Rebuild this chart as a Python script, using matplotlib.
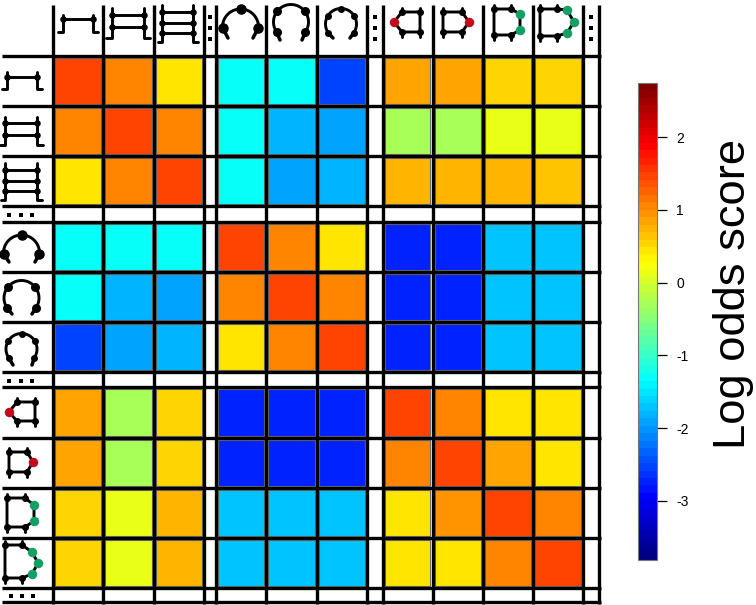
import numpy as np
import matplotlib
matplotlib.use("Agg")
import matplotlib.pyplot as plt
from matplotlib.colors import LinearSegmentedColormap, Normalize
from matplotlib.cm import ScalarMappable
from matplotlib.patches import Rectangle

plt.rcParams['font.family'] = ['Liberation Sans', 'DejaVu Sans']
plt.rcParams['axes.unicode_minus'] = False

# ---------- data ----------
row1 = [1.50, 1.05, 0.40, -1.30, -1.30, -2.50, 0.80, 0.80, 0.50, 0.50]
row2 = [1.05, 1.50, 1.05, -1.30, -1.77, -1.95, -0.32, -0.32, 0.15, 0.15]
row3 = [0.40, 1.05, 1.50, -1.30, -1.95, -1.77, 0.70, 0.70, 0.70, 0.62]
row4 = [-1.30, -1.30, -1.30, 1.50, 1.05, 0.40, -2.72, -2.72, -1.75, -1.75]
row5 = [-1.30, -1.77, -1.95, 1.05, 1.50, 1.05, -2.72, -2.72, -1.72, -1.72]
row6 = [-2.50, -1.95, -1.77, 0.40, 1.05, 1.50, -2.72, -2.72, -1.72, -1.72]
row7 = [0.80, -0.32, 0.50, -2.72, -2.72, -2.72, 1.50, 1.05, 0.40, 0.40]
row8 = [0.80, -0.32, 0.50, -2.72, -2.72, -2.72, 1.05, 1.50, 0.80, 0.40]
row9 = [0.50, 0.15, 0.70, -1.75, -1.75, -1.75, 0.40, 1.00, 1.50, 1.05]
row10 = [0.50, 0.15, 0.70, -1.72, -1.72, -1.72, 0.40, 0.40, 1.05, 1.50]
scores = [row1, row2, row3, row4, row5, row6, row7, row8, row9, row10]
score_min, score_max = -3.815, 2.746
colorbar_ticks = [-3, -2, -1, 0, 1, 2]
colorbar_label = "Log odds score"

# ---------- layout (pixels) ----------
W, H = 756, 605
v_lines = [52.5, 103, 154, 204, 216, 266, 317, 367, 382.5, 432.5, 483, 533, 583, 599]
h_lines = [56, 106, 156, 206, 222, 272, 322, 372, 387, 438, 488, 538, 588, 602]
col_ids = [0, 1, 2, 4, 5, 6, 8, 9, 10, 11]
row_ids = [0, 1, 2, 4, 5, 6, 8, 9, 10, 11]

cmap = LinearSegmentedColormap.from_list(
    "matlab_jet",
    [(0, (0, 0, .5)), (.125, (0, 0, 1)), (.375, (0, 1, 1)),
     (.625, (1, 1, 0)), (.875, (1, 0, 0)), (1, (.5, 0, 0))], N=64)
norm = Normalize(score_min, score_max)

fig = plt.figure(figsize=(W / 100, H / 100), dpi=100)
ax = fig.add_axes([0, 0, 1, 1])
ax.set_xlim(0, W)
ax.set_ylim(H, 0)
ax.axis("off")

# ---------- heat cells ----------
for i, row in enumerate(scores):
    y0, y1 = h_lines[row_ids[i]], h_lines[row_ids[i] + 1]
    for j, val in enumerate(row):
        x0, x1 = v_lines[col_ids[j]], v_lines[col_ids[j] + 1]
        ax.add_patch(Rectangle((x0 + 2.3, y0 + 2.0), x1 - x0 - 4.6, y1 - y0 - 4.0,
                               facecolor=cmap(norm(val)), edgecolor="#6e6e6e",
                               linewidth=0.8, zorder=1))

# ---------- grid ----------
for x in v_lines:
    ax.plot([x, x], [5, 604], color="black", lw=2.4, solid_capstyle="butt", zorder=2)
for y in h_lines:
    ax.plot([2, 600.5], [y, y], color="black", lw=2.4, solid_capstyle="butt", zorder=2)

# ---------- icons ----------
LW = 2.1
RED, GREEN = "#c00d1e", "#12a064"


def seg(xs, ys, lw=LW):
    ax.plot(xs, ys, color="black", lw=lw, solid_capstyle="round",
            solid_joinstyle="round", zorder=3)


def dot(x, y, d, color="black"):
    ax.plot([x], [y], "o", ms=d * 0.72, mfc=color, mec=color, mew=0, zorder=4)


def ladder(xl, xr, rungs, top, foot, foot_l, foot_r):
    seg([foot_l, xl, xl], [foot, foot, top])
    seg([foot_r, xr, xr], [foot, foot, top])
    for y in rungs:
        seg([xl, xr], [y, y])
        dot(xl, y, 6.5)
        dot(xr, y, 6.5)


ladder(63, 93, [19], 15, 32, 58, 98)
ladder(112, 144, [15, 27], 8, 38, 106, 150)
ladder(162, 193, [12, 23, 33], 5, 42, 158, 198)
ladder(7, 37, [77], 72, 89, 2, 42)
ladder(4.5, 37, [123, 135], 117, 145, 0, 43)
ladder(4.5, 37, [170, 181, 191], 163, 200, 1, 42)


def arch(cx, cy, r, angles, ends, end_y, d):
    a_max = max(abs(a) for a in angles)
    t = np.radians(np.linspace(-a_max, a_max, 60))
    seg(cx + r * np.sin(t), cy - r * np.cos(t), lw=LW)
    for sgn, ex in zip((-1, 1), ends):
        s = np.radians(a_max)
        seg([cx + sgn * r * np.sin(s), ex], [cy - r * np.cos(s), end_y], lw=LW * 1.2)
    for a in angles:
        s = np.radians(a)
        dot(cx + r * np.sin(s), cy - r * np.cos(s), d)


arch(240.5, 27, 18, [-92, 0, 92], (228, 253), 38, 10.5)
arch(291, 22, 17.5, [-125, -52, 52, 125], (280, 302), 40, 9)
arch(341, 24, 15.5, [-125, -60, 0, 60, 125], (333, 350), 38, 7)
arch(21.5, 253, 18, [-92, 0, 92], (9, 35), 262, 10.5)
arch(21.5, 298, 17.5, [-125, -52, 52, 125], (12, 32), 314, 9)
arch(21.5, 349, 15.5, [-125, -60, 0, 60, 125], (13, 32), 365, 7)


def ring(pts, colors):
    xs = [p[0] for p in pts] + [pts[0][0]]
    ys = [p[1] for p in pts] + [pts[0][1]]
    seg(xs, ys)
    cy = sum(ys[:-1]) / len(pts)
    for (x, y), c in zip(pts, colors):
        if c == "black":
            seg([x, x], [y, y + (4.5 if y > cy else -4.5)])
            dot(x, y, 7)
        else:
            dot(x, y, 9.5, c)


K = "black"
ring([(394, 22), (402, 12), (420, 12), (420, 32), (402, 32)], [RED, K, K, K, K])
ring([(443, 12), (462, 12), (469, 22), (462, 32), (443, 32)], [K, K, RED, K, K])
ring([(494, 9), (511, 9), (520, 14), (520, 30), (511, 35), (494, 35)], [K, K, GREEN, GREEN, K, K])
ring([(540, 9), (557, 9), (567, 10), (574, 22), (567, 33), (557, 36), (540, 36)],
     [K, K, GREEN, GREEN, GREEN, K, K])
ring([(9, 412), (17, 402), (35, 402), (35, 421), (17, 421)], [RED, K, K, K, K])
ring([(9, 452), (27, 452), (33, 462), (27, 472), (9, 472)], [K, K, RED, K, K])
ring([(7, 498), (25, 498), (34, 505), (34, 521), (25, 527), (7, 527)], [K, K, GREEN, GREEN, K, K])
ring([(5, 545), (22, 545), (32, 552), (38, 563), (32, 574), (22, 578), (5, 578)],
     [K, K, GREEN, GREEN, GREEN, K, K])

# ---------- ellipsis marks ----------
for x in (210, 375, 590.5):
    ax.plot([x] * 3, [17, 28, 39], "s", ms=3.2, color="black", mew=0, zorder=3)
for y, xs in ((214.5, (9, 21, 32)), (381, (9, 21, 32)), (596, (11, 22, 33))):
    ax.plot(xs, [y] * 3, "s", ms=3.2, color="black", mew=0, zorder=3)

# ---------- colour bar ----------
cax = fig.add_axes([638 / W, 1 - 560 / H, 19 / W, 477 / H])
cb = fig.colorbar(ScalarMappable(norm=norm, cmap=cmap), cax=cax, ticks=colorbar_ticks)
cb.outline.set_edgecolor("#777777")
cb.outline.set_linewidth(0.8)
cb.ax.tick_params(length=7.2, width=0.9, pad=6.5, labelsize=10, color="black")
cb.set_label(colorbar_label, fontsize=32.7, rotation=90, va="center", ha="center")
cb.ax.yaxis.set_label_coords((733 - 638) / 19, (560 - 294) / 477)

fig.savefig("out.png", dpi=100)
